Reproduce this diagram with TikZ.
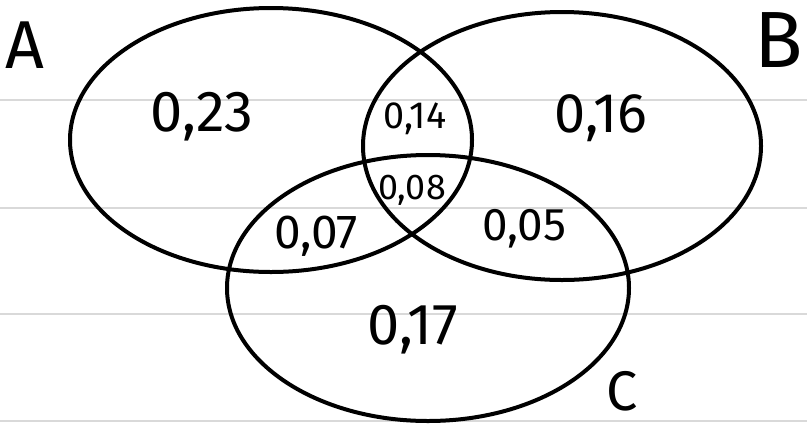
\documentclass[tikz,border=0pt]{standalone}
\usepackage{fontspec}
\setmainfont{Fira Sans}
\begin{document}
\begin{tikzpicture}[
  x=1bp, y=-1bp,
  setring/.style={line width=4bp, draw=black},
  ruled/.style={line width=2.5bp, draw=black!15},
  prob/.style={inner sep=0pt, font=\fontsize{#1}{#1}\selectfont},
  setname/.style={inner sep=0pt, font=\fontsize{#1}{#1}\selectfont}
]
\fill[white] (0,0) rectangle (807,424);
\useasboundingbox (0,0) rectangle (807,424);
% paper lines
\foreach \ly in {100,208,314,421}
  \draw[ruled] (0,\ly) -- (807,\ly);
% the three sets
\coordinate (cA) at (271,140);
\coordinate (cB) at (562,146);
\coordinate (cC) at (428,288);
\draw[setring] (cA) ellipse [x radius=201, y radius=132];
\draw[setring] (cB) ellipse [x radius=199, y radius=134];
\draw[setring] (cC) ellipse [x radius=201, y radius=133];
% set names
\node[setname=68] (nA) at (25,45) {A};
\node[setname=80] (nB) at (779,40) {B};
\node[setname=56] (nC) at (622,391) {C};
% probabilities
\node[prob=58] (pA)   at (202,117) {0,23};
\node[prob=38] (pAB)  at (415,119) {0,14};
\node[prob=56] (pB)   at (601,118) {0,16};
\node[prob=36] (pABC) at (412,190) {0,08};
\node[prob=48] (pAC)  at (316,236) {0,07};
\node[prob=46] (pBC)  at (524,229) {0,05};
\node[prob=58] (pC)   at (413,330) {0,17};
\end{tikzpicture}
\end{document}
